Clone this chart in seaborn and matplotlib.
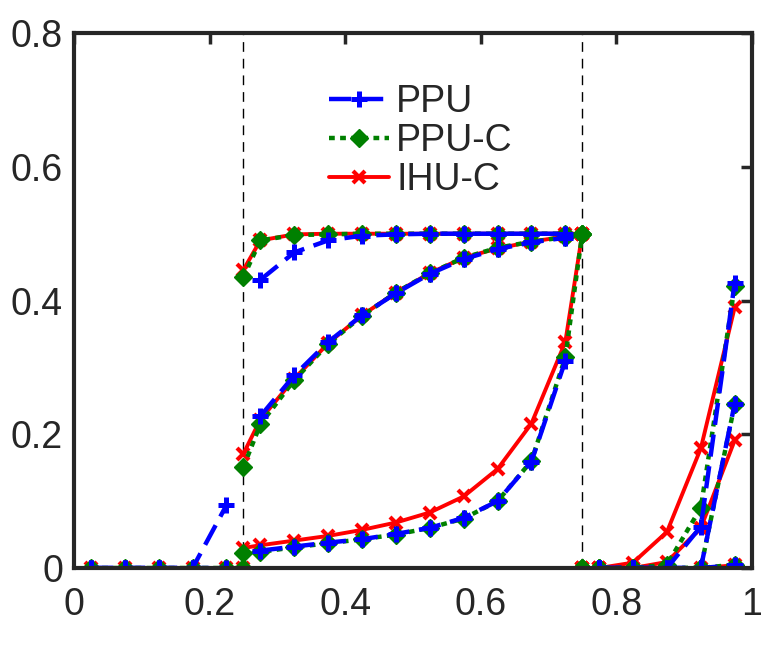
import numpy as np
import pandas as pd
import matplotlib
matplotlib.use('Agg')
import matplotlib.pyplot as plt
import seaborn as sns

# x grids
x_left = [0.025, 0.075, 0.125, 0.175, 0.225]
x_mid = [0.275, 0.325, 0.375, 0.425, 0.475, 0.525, 0.575, 0.625, 0.675, 0.725]
x_right = [0.775, 0.825, 0.875, 0.925, 0.975]
x_left_c = x_left + [0.25]
x_mid_c = [0.25] + x_mid + [0.75]
x_right_c = [0.75] + x_right

# PPU
ppu_left_1 = [0, 0, 0, 0, 0.094]
ppu_left_2 = [0, 0, 0, 0, 0]
ppu_mid_top = [0.431, 0.472, 0.490, 0.497, 0.499, 0.500, 0.500, 0.500, 0.500, 0.500]
ppu_mid_middle = [0.227, 0.288, 0.338, 0.378, 0.411, 0.440, 0.462, 0.477, 0.487, 0.494]
ppu_mid_bottom = [0.026, 0.032, 0.038, 0.043, 0.051, 0.060, 0.075, 0.100, 0.159, 0.310]
ppu_right_1 = [0, 0, 0, 0.062, 0.427]
ppu_right_2 = [0, 0, 0, 0, 0.246]
ppu_right_3 = [0, 0, 0, 0, 0.004]

# PPU-C
ppuc_left = [0, 0, 0, 0, 0, 0]
ppuc_mid_top = [0.435, 0.490, 0.498, 0.499, 0.500, 0.500, 0.500, 0.500, 0.500, 0.500, 0.500, 0.500]
ppuc_mid_middle = [0.151, 0.215, 0.281, 0.335, 0.377, 0.412, 0.441, 0.464, 0.479, 0.488, 0.495, 0.500]
ppuc_mid_bottom = [0.023, 0.024, 0.031, 0.037, 0.043, 0.050, 0.060, 0.074, 0.100, 0.160, 0.315, 0.500]
ppuc_right_1 = [0, 0, 0, 0.005, 0.090, 0.422]
ppuc_right_2 = [0, 0, 0, 0, 0, 0.245]
ppuc_right_3 = [0, 0, 0, 0, 0, 0.005]

# IHU-C
ihuc_left = [0, 0, 0, 0, 0, 0]
ihuc_mid_top = [0.446, 0.490, 0.499, 0.500, 0.500, 0.500, 0.500, 0.500, 0.500, 0.500, 0.500, 0.500]
ihuc_mid_middle = [0.171, 0.222, 0.283, 0.336, 0.378, 0.412, 0.441, 0.464, 0.478, 0.488, 0.496, 0.500]
ihuc_mid_bottom = [0.030, 0.034, 0.041, 0.048, 0.057, 0.068, 0.083, 0.107, 0.148, 0.216, 0.338, 0.500]
ihuc_right_1 = [0, 0, 0.008, 0.054, 0.179, 0.390]
ihuc_right_2 = [0, 0, 0, 0.009, 0.060, 0.191]
ihuc_right_3 = [0, 0, 0, 0, 0, 0.004]

x_ticks = [0, 0.2, 0.4, 0.6, 0.8, 1]
x_tick_labels = ['0', '0.2', '0.4', '0.6', '0.8', '1']
y_ticks = [0, 0.2, 0.4, 0.6, 0.8]
y_tick_labels = ['0', '0.2', '0.4', '0.6', '0.8']


def to_frame(segments):
    rows = []
    for i, (xs, ys) in enumerate(segments):
        for x, y in zip(xs, ys):
            rows.append({'curve': i, 'x': x, 'y': y})
    return pd.DataFrame(rows)


ppu_df = to_frame([
    (x_left, ppu_left_1), (x_left, ppu_left_2),
    (x_mid, ppu_mid_top), (x_mid, ppu_mid_middle), (x_mid, ppu_mid_bottom),
    (x_right, ppu_right_1), (x_right, ppu_right_2), (x_right, ppu_right_3),
])
ppuc_df = to_frame([
    (x_left_c, ppuc_left),
    (x_mid_c, ppuc_mid_top), (x_mid_c, ppuc_mid_middle), (x_mid_c, ppuc_mid_bottom),
    (x_right_c, ppuc_right_1), (x_right_c, ppuc_right_2), (x_right_c, ppuc_right_3),
])
ihuc_df = to_frame([
    (x_left_c, ihuc_left),
    (x_mid_c, ihuc_mid_top), (x_mid_c, ihuc_mid_middle), (x_mid_c, ihuc_mid_bottom),
    (x_right_c, ihuc_right_1), (x_right_c, ihuc_right_2), (x_right_c, ihuc_right_3),
])

sns.set_style('white')
plt.rcParams['font.family'] = ['Liberation Sans', 'DejaVu Sans']

fig = plt.figure(figsize=(7.67, 6.63), dpi=100)
ax = fig.add_axes([0.0965, 0.1433, 0.8835, 0.8067])

# рисуем снизу вверх: красный, зелёный, синий
sns.lineplot(data=ihuc_df, x='x', y='y', units='curve', estimator=None, sort=False,
             ax=ax, color='red', linestyle='-', linewidth=2.8, marker='x',
             markersize=9, markeredgewidth=3, markeredgecolor='red', label='IHU-C')
sns.lineplot(data=ppuc_df, x='x', y='y', units='curve', estimator=None, sort=False,
             ax=ax, color='#008000', linestyle=(0, (1.3, 1.2)), linewidth=3.2, marker='D',
             markersize=9, markeredgewidth=1, markeredgecolor='#008000', label='PPU-C')
sns.lineplot(data=ppu_df, x='x', y='y', units='curve', estimator=None, sort=False,
             ax=ax, color='blue', linestyle=(0, (5, 2.2)), linewidth=3.2, marker='+',
             markersize=12, markeredgewidth=3.6, markeredgecolor='blue', label='PPU')

for xv in [0.25, 0.75]:
    ax.axvline(xv, color='black', linestyle=(0, (7, 5)), linewidth=1.0, zorder=0)

ax.set_xlim(0, 1)
ax.set_ylim(0, 0.8)
ax.set_xticks(x_ticks)
ax.set_xticklabels(x_tick_labels)
ax.set_yticks(y_ticks)
ax.set_yticklabels(y_tick_labels)
ax.set_xlabel('')
ax.set_ylabel('')
ax.tick_params(direction='in', length=8, width=2.5, color='#262626', labelsize=27,
               top=True, right=True, pad=8, labelcolor='#262626')
ax.tick_params(axis='x', pad=14)
for sp in ax.spines.values():
    sp.set_visible(True)
    sp.set_linewidth(3)
    sp.set_color('#262626')

handles, labels = ax.get_legend_handles_labels()
seen = {}
for h, l in zip(handles, labels):
    if l not in seen:
        seen[l] = h
order = ['PPU', 'PPU-C', 'IHU-C']
ax.legend([seen[k] for k in order], order, loc='upper left', bbox_to_anchor=(0.376, 0.905),
          frameon=False, fontsize=27, handlelength=1.6, handletextpad=0.2,
          labelspacing=0.08, borderaxespad=0, borderpad=0)

fig.savefig('out.png', dpi=100)
